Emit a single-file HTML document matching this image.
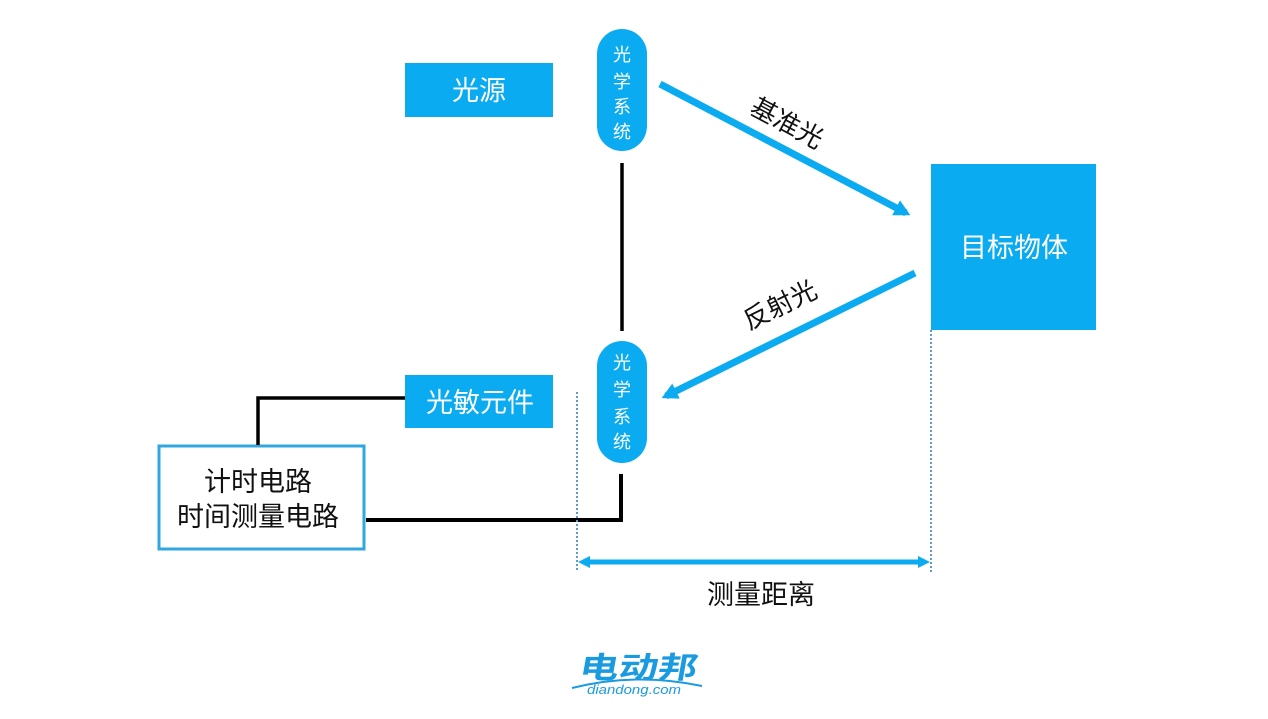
<!DOCTYPE html>
<html><head><meta charset="utf-8"><style>
html,body{margin:0;padding:0;background:#fff;}
body{width:1268px;height:714px;overflow:hidden;}
svg text{font-family:"Liberation Sans","Noto Sans CJK SC",sans-serif;}
</style></head><body>
<svg width="1268" height="714" viewBox="0 0 1268 714" xmlns="http://www.w3.org/2000/svg">
<defs>
<marker id="ah" markerWidth="3" markerHeight="3" refX="1.6" refY="1.2" orient="auto" markerUnits="strokeWidth">
<path d="M0,0 L2.3,1.2 L0,2.4 Z" fill="#0aabf0"/>
</marker>
</defs>
<!-- 光源 -->
<rect x="405" y="63" width="148" height="54" fill="#0aabf0"/>
<text x="479" y="100" font-size="27" fill="#fff" text-anchor="middle">光源</text>
<!-- top pill -->
<rect x="597" y="29" width="50" height="122" rx="25" ry="25" fill="#0aabf0"/>
<g font-size="18" fill="#fff" text-anchor="middle">
<text x="622" y="61">光</text><text x="622" y="88">学</text><text x="622" y="113">系</text><text x="622" y="138">统</text>
</g>
<!-- vertical black line -->
<line x1="622" y1="163" x2="622" y2="331" stroke="#000" stroke-width="3.5"/>
<!-- bottom pill -->
<rect x="597" y="341" width="50" height="122" rx="25" ry="25" fill="#0aabf0"/>
<g font-size="18" fill="#fff" text-anchor="middle">
<text x="622" y="369">光</text><text x="622" y="396">学</text><text x="622" y="423">系</text><text x="622" y="448">统</text>
</g>
<!-- 光敏元件 -->
<rect x="405" y="375" width="148" height="53" fill="#0aabf0"/>
<text x="480" y="412" font-size="27" fill="#fff" text-anchor="middle">光敏元件</text>
<!-- timer box -->
<rect x="159" y="446" width="205" height="103" fill="#fff" stroke="#31a7e0" stroke-width="3"/>
<text x="258" y="491" font-size="27" fill="#111" text-anchor="middle">计时电路</text>
<text x="258" y="526" font-size="27" fill="#111" text-anchor="middle">时间测量电路</text>
<!-- black connectors -->
<polyline points="405,398 258,398 258,445" fill="none" stroke="#000" stroke-width="3.5"/>
<polyline points="366,520 621,520 621,474" fill="none" stroke="#000" stroke-width="4"/>
<!-- target -->
<rect x="931" y="164" width="165" height="166" fill="#0aabf0"/>
<text x="1014" y="257" font-size="27" fill="#fff" text-anchor="middle">目标物体</text>
<!-- arrows -->
<line x1="660" y1="84" x2="906" y2="213" stroke="#0aabf0" stroke-width="7" marker-end="url(#ah)"/>
<line x1="915" y1="273" x2="666" y2="396" stroke="#0aabf0" stroke-width="7" marker-end="url(#ah)"/>
<text x="787" y="132" font-size="26" fill="#111" text-anchor="middle" transform="rotate(28 787 123)">基准光</text>
<text x="780" y="314" font-size="26" fill="#111" text-anchor="middle" transform="rotate(-26 780 305)">反射光</text>
<!-- dotted lines -->
<line x1="577" y1="392" x2="577" y2="572" stroke="#5b9fc8" stroke-width="2" stroke-dasharray="2,2"/>
<line x1="931" y1="330" x2="931" y2="572" stroke="#5b9fc8" stroke-width="2" stroke-dasharray="2,2"/>
<!-- distance arrow -->
<line x1="588" y1="562" x2="920" y2="562" stroke="#0aabf0" stroke-width="5"/>
<path d="M578,562 L590,556 L590,568 Z" fill="#0aabf0"/>
<path d="M930,562 L918,556 L918,568 Z" fill="#0aabf0"/>
<text x="761" y="604" font-size="27" fill="#111" text-anchor="middle">测量距离</text>
<!-- logo -->
<g transform="translate(637,678) skewX(-10)">
<text x="0" y="0" font-size="30" font-weight="bold" fill="#1a9be0" text-anchor="middle" textLength="118" lengthAdjust="spacingAndGlyphs">电动邦</text>
</g>
<path d="M572,688 Q636,672 702,686" fill="none" stroke="#1a9be0" stroke-width="2"/>
<text x="634" y="694" font-size="13" font-style="italic" fill="#1a9be0" text-anchor="middle" textLength="94" lengthAdjust="spacingAndGlyphs">diandong.com</text>
</svg>
</body></html>
